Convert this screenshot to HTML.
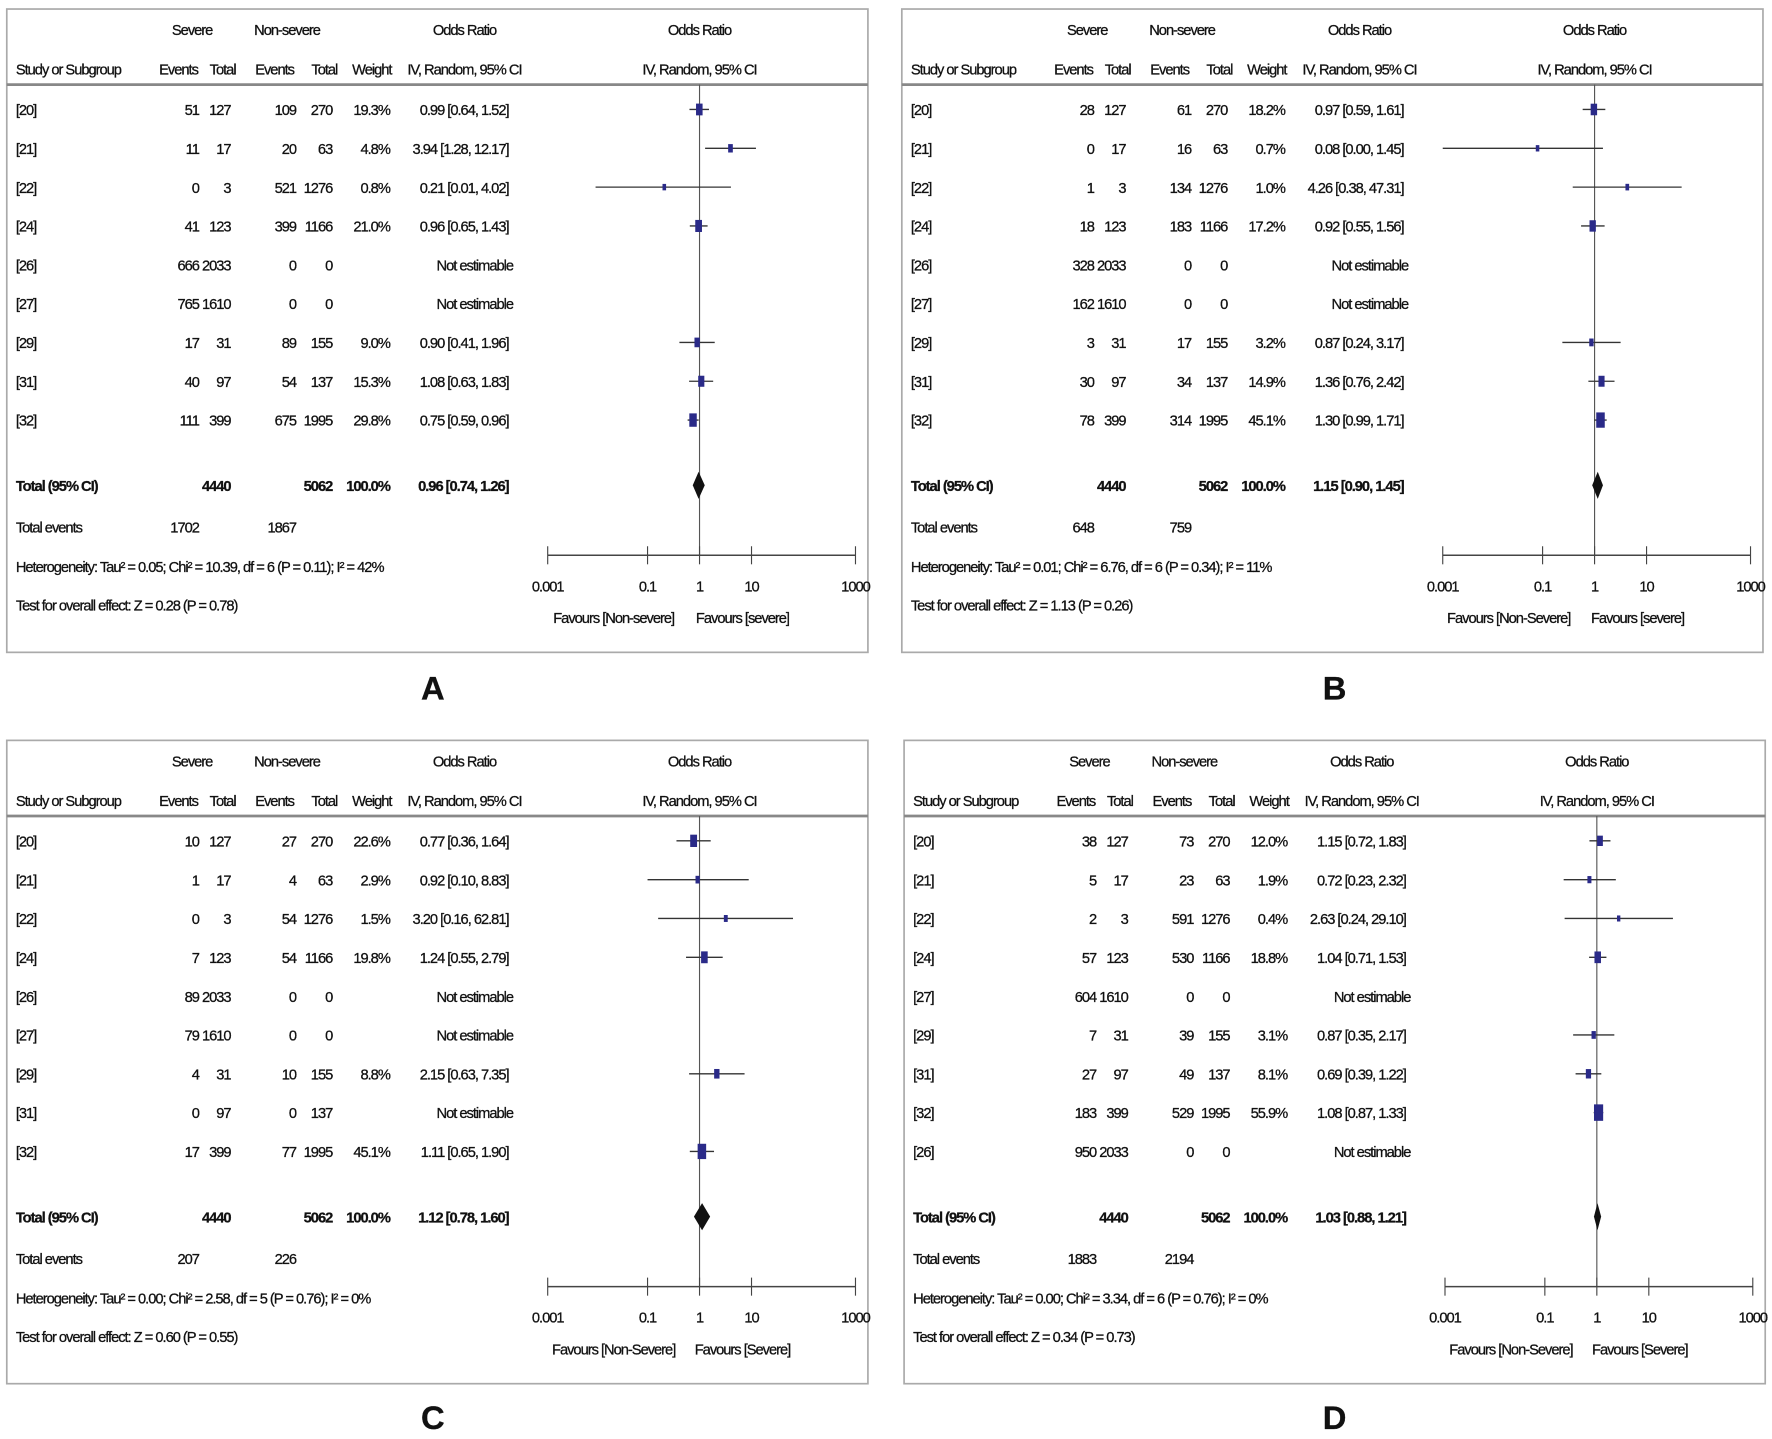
<!DOCTYPE html>
<html><head><meta charset="utf-8"><style>
html,body{margin:0;padding:0;background:#fff;}
svg{display:block;}
text{font-family:"Liberation Sans",sans-serif;fill:#111;stroke:#111;stroke-width:0.25;}
</style></head><body>
<svg id="fig" width="1772" height="1439" viewBox="0 0 1568 1275" preserveAspectRatio="none" xmlns="http://www.w3.org/2000/svg"></svg>
<script>
// Study labels per panel
const studiesA = ["[20]","[21]","[22]","[24]","[26]","[27]","[29]","[31]","[32]"];
const studiesB = ["[20]","[21]","[22]","[24]","[26]","[27]","[29]","[31]","[32]"];
const studiesC = ["[20]","[21]","[22]","[24]","[26]","[27]","[29]","[31]","[32]"];
const studiesD = ["[20]","[21]","[22]","[24]","[27]","[29]","[31]","[32]","[26]"];
// Severe events / totals, Non-severe events / totals
const sevEvA = [51,11,0,41,666,765,17,40,111], sevTotA = [127,17,3,123,2033,1610,31,97,399];
const nonEvA = [109,20,521,399,0,0,89,54,675], nonTotA = [270,63,1276,1166,0,0,155,137,1995];
const sevEvB = [28,0,1,18,328,162,3,30,78], sevTotB = [127,17,3,123,2033,1610,31,97,399];
const nonEvB = [61,16,134,183,0,0,17,34,314], nonTotB = [270,63,1276,1166,0,0,155,137,1995];
const sevEvC = [10,1,0,7,89,79,4,0,17], sevTotC = [127,17,3,123,2033,1610,31,97,399];
const nonEvC = [27,4,54,54,0,0,10,0,77], nonTotC = [270,63,1276,1166,0,0,155,137,1995];
const sevEvD = [38,5,2,57,604,7,27,183,950], sevTotD = [127,17,3,123,1610,31,97,399,2033];
const nonEvD = [73,23,591,530,0,39,49,529,0], nonTotD = [270,63,1276,1166,0,155,137,1995,0];
// Weights (%) — null = not estimable
const weightA = [19.3,4.8,0.8,21.0,null,null,9.0,15.3,29.8];
const weightB = [18.2,0.7,1.0,17.2,null,null,3.2,14.9,45.1];
const weightC = [22.6,2.9,1.5,19.8,null,null,8.8,null,45.1];
const weightD = [12.0,1.9,0.4,18.8,null,3.1,8.1,55.9,null];
// Odds ratios and CIs
const orA = [0.99,3.94,0.21,0.96,null,null,0.90,1.08,0.75];
const loA = [0.64,1.28,0.01,0.65,null,null,0.41,0.63,0.59];
const hiA = [1.52,12.17,4.02,1.43,null,null,1.96,1.83,0.96];
const orB = [0.97,0.08,4.26,0.92,null,null,0.87,1.36,1.30];
const loB = [0.59,0.00,0.38,0.55,null,null,0.24,0.76,0.99];
const hiB = [1.61,1.45,47.31,1.56,null,null,3.17,2.42,1.71];
const orC = [0.77,0.92,3.20,1.24,null,null,2.15,null,1.11];
const loC = [0.36,0.10,0.16,0.55,null,null,0.63,null,0.65];
const hiC = [1.64,8.83,62.81,2.79,null,null,7.35,null,1.90];
const orD = [1.15,0.72,2.63,1.04,null,0.87,0.69,1.08,null];
const loD = [0.72,0.23,0.24,0.71,null,0.35,0.39,0.87,null];
const hiD = [1.83,2.32,29.10,1.53,null,2.17,1.22,1.33,null];
// Totals
const totalOR = [0.96,1.15,1.12,1.03], totalLo = [0.74,0.90,0.78,0.88], totalHi = [1.26,1.45,1.60,1.21];
const totalEvSev = [1702,648,207,1883], totalEvNon = [1867,759,226,2194];
const hetText = ["Heterogeneity: Tau² = 0.05; Chi² = 10.39, df = 6 (P = 0.11); I² = 42%",
 "Heterogeneity: Tau² = 0.01; Chi² = 6.76, df = 6 (P = 0.34); I² = 11%",
 "Heterogeneity: Tau² = 0.00; Chi² = 2.58, df = 5 (P = 0.76); I² = 0%",
 "Heterogeneity: Tau² = 0.00; Chi² = 3.34, df = 6 (P = 0.76); I² = 0%"];
const effText = ["Test for overall effect: Z = 0.28 (P = 0.78)","Test for overall effect: Z = 1.13 (P = 0.26)",
 "Test for overall effect: Z = 0.60 (P = 0.55)","Test for overall effect: Z = 0.34 (P = 0.73)"];
const favLeft = ["Favours [Non-severe]","Favours [Non-Severe]","Favours [Non-Severe]","Favours [Non-Severe]"];
const favRight = ["Favours [severe]","Favours [severe]","Favours [Severe]","Favours [Severe]"];
const tickVals = [0.001,0.1,1,10,1000];
const tickLabels = ["0.001","0.1","1","10","1000"];
const panelLetters = ["A","B","C","D"];

const NS="http://www.w3.org/2000/svg";
const svg=document.getElementById('fig');
function mk(tag,attrs,parent){const e=document.createElementNS(NS,tag);for(const k in attrs)e.setAttribute(k,attrs[k]);(parent||svg).appendChild(e);return e;}
function txt(g,x,y,s,anchor,bold,name){const t=mk('text',{x:x,y:y,'font-size':13,'letter-spacing':-0.9,'text-anchor':anchor||'start','font-weight':bold?'bold':'normal'},g);t.textContent=s;


return t;}
function fmt(v){return v.toFixed(2);}

const panels=[
 {ox:6,oy:8,st:studiesA,se:sevEvA,sT:sevTotA,ne:nonEvA,nT:nonTotA,w:weightA,or:orA,lo:loA,hi:hiA},
 {ox:798,oy:8,st:studiesB,se:sevEvB,sT:sevTotB,ne:nonEvB,nT:nonTotB,w:weightB,or:orB,lo:loB,hi:hiB},
 {ox:6,oy:656,st:studiesC,se:sevEvC,sT:sevTotC,ne:nonEvC,nT:nonTotC,w:weightC,or:orC,lo:loC,hi:hiC},
 {ox:800,oy:656,st:studiesD,se:sevEvD,sT:sevTotD,ne:nonEvD,nT:nonTotD,w:weightD,or:orD,lo:loD,hi:hiD}
];
function xs(v){v=Math.max(v,0.0012);v=Math.min(v,1000);return 475+(Math.log10(v)+3)/6*276;}
function ys(i){return 89+i*34.4;}

panels.forEach((p,pi)=>{
 const g=mk('g',{transform:`translate(${p.ox},${p.oy})`});
 
 
 const box=mk('rect',{x:0,y:0,width:762,height:570,fill:'none',stroke:'#aaa','stroke-width':1.5},g);
 
 
 txt(g,164,23,'Severe','middle',false,'severe-header');
 txt(g,248,23,'Non-severe','middle',false,'non-severe-header');
 txt(g,405,23,'Odds Ratio','middle',false,'odds-ratio-header');
 txt(g,613,23,'Odds Ratio','middle',false,'odds-ratio-plot-header');
 txt(g,8,58,'Study or Subgroup','start',false,'study-column-header');
 txt(g,152,58,'Events','middle',false,'severe-events-header');
 txt(g,191,58,'Total','middle',false,'severe-total-header');
 txt(g,237,58,'Events','middle',false,'non-severe-events-header');
 txt(g,281,58,'Total','middle',false,'non-severe-total-header');
 txt(g,323,58,'Weight','middle',false,'weight-header');
 txt(g,405,58,'IV, Random, 95% CI','middle',false,'ci-header');
 txt(g,613,58,'IV, Random, 95% CI','middle',false,'plot-ci-header');
 const hl=mk('line',{x1:0,x2:762,y1:67,y2:67,stroke:'#888','stroke-width':2.5},g);
 
 
 const vl=mk('line',{x1:xs(1),x2:xs(1),y1:67,y2:484,stroke:'#555','stroke-width':1},g);
 
 
 p.st.forEach((s,i)=>{
  const y=ys(i), ty=y+5;
  txt(g,8,ty,s,'start',false,'study-label');
  txt(g,170,ty,String(p.se[i]),'end',false,'severe-events');
  txt(g,198,ty,String(p.sT[i]),'end',false,'severe-total');
  txt(g,256,ty,String(p.ne[i]),'end',false,'non-severe-events');
  txt(g,288,ty,String(p.nT[i]),'end',false,'non-severe-total');
  if(p.w[i]!=null) txt(g,339,ty,p.w[i].toFixed(1)+'%','end',false,'weight-value');
  if(p.or[i]!=null){
   txt(g,444,ty,fmt(p.or[i])+' ['+fmt(p.lo[i])+', '+fmt(p.hi[i])+']','end',false,'odds-ratio-value');
   const ci=mk('line',{x1:xs(p.lo[i]),x2:xs(p.hi[i]),y1:y,y2:y,stroke:'#333','stroke-width':1.2},g);
   
   
   const sz=2.5+Math.sqrt(p.w[i])*0.75, h=sz*1.8;
   const sq=mk('rect',{x:xs(p.or[i])-sz/2,y:y-h/2,width:sz,height:h,fill:'#2a2a88'},g);
   
   
  } else txt(g,448,ty,'Not estimable','end',false,'not-estimable');
 });
 const yt=422;
 txt(g,8,yt+5,'Total (95% CI)','start',true,'total-label');
 txt(g,198,yt+5,'4440','end',true,'severe-total-sum');
 txt(g,288,yt+5,'5062','end',true,'non-severe-total-sum');
 txt(g,339,yt+5,'100.0%','end',true,'total-weight');
 txt(g,444,yt+5,fmt(totalOR[pi])+' ['+fmt(totalLo[pi])+', '+fmt(totalHi[pi])+']','end',true,'total-odds-ratio');
 const c=xs(totalOR[pi]), l=xs(totalLo[pi]), r=xs(totalHi[pi]);
 const dm=mk('polygon',{points:`${l},${yt} ${c},${yt-12} ${r},${yt} ${c},${yt+12}`,fill:'#111'},g);
 
 
 txt(g,8,464,'Total events','start',false,'total-events-label');
 txt(g,170,464,String(totalEvSev[pi]),'end',false,'severe-total-events');
 txt(g,256,464,String(totalEvNon[pi]),'end',false,'non-severe-total-events');
 txt(g,8,499,hetText[pi],'start',false,'heterogeneity-text');
 txt(g,8,533,effText[pi],'start',false,'overall-effect-text');
 const ax=mk('line',{x1:xs(0.001),x2:xs(1000),y1:484,y2:484,stroke:'#444','stroke-width':1.3},g);
 
 
 tickVals.forEach((v,k)=>{
  const tk=mk('line',{x1:xs(v),x2:xs(v),y1:476,y2:492,stroke:'#444','stroke-width':1},g);
  
  
  txt(g,xs(v),516,tickLabels[k],'middle',false,'x-tick-label');
 });
 txt(g,537,544,favLeft[pi],'middle',false,'favours-left-label');
 txt(g,651,544,favRight[pi],'middle',false,'favours-right-label');
 const lt=mk('text',{x:(pi%2?1181:383),y:(pi<2?620:1266),'font-size':29,'font-weight':'bold','text-anchor':'middle'});
 lt.textContent=panelLetters[pi];
 
 
});
</script>
</body></html>
